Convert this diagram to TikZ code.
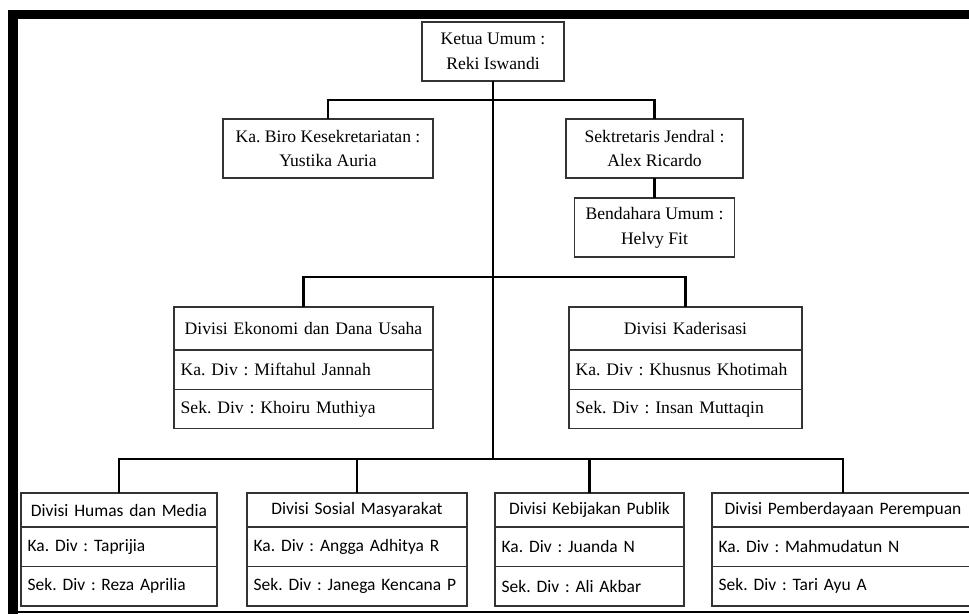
\documentclass[tikz,border=0pt]{standalone}
\usepackage{fontspec}
\setmainfont{Liberation Serif}
\newfontfamily\calibri{Carlito}
\usetikzlibrary{positioning}
\frenchspacing

\begin{document}
\begin{tikzpicture}[x=0.75pt,y=-0.75pt,
    box/.style={draw=black!80,line width=1.1pt,outer sep=0pt,inner sep=0pt,
      font=\fontsize{13.2}{18.5}\selectfont},
    post/.style={box,align=center,minimum height=44.25pt},
    head/.style={box,align=center,inner xsep=5pt,minimum height=32.25pt},
    row/.style={box,align=left,inner xsep=5pt,minimum height=29.5pt},
    lowhead/.style={head,minimum height=25.5pt,font=\calibri\fontsize{13.1}{16}\selectfont},
    lowrow/.style={row,minimum height=29.6pt,font=\calibri\fontsize{13.1}{16}\selectfont},
    link/.style={line width=2.2pt,black}]
  \useasboundingbox (0,0) rectangle (969,614);
  %
  % Frame
  \fill[black] (8,10) rectangle (18,614);
  \fill[black] (8,10) rectangle (969,19);
  \draw[line width=1pt] (18,612) -- (969,612);
  %
  % Pengurus inti
  \node[post,minimum width=106.5pt] (ketua) at (493,51.5) {Ketua Umum :\\Reki Iswandi};
  \node[post,minimum width=157.5pt] (biro) at (328,148.5) {Ka. Biro Kesekretariatan :\\Yustika Auria};
  \node[post,minimum width=132.75pt] (sekjen) at (654.5,148.5) {Sektretaris Jendral :\\Alex Ricardo};
  \node[post,minimum width=120pt] (bendahara) at (654.5,227.5) {Bendahara Umum :\\Helvy Fit};
  %
  % Divisi tengah
  \node[head,text width=184.25pt] (ekoHead) at (303.5,328.5) {Divisi Ekonomi dan Dana Usaha};
  \node[row,text width=184.25pt,below=0pt of ekoHead] (ekoKa) {Ka. Div : Miftahul Jannah};
  \node[row,text width=184.25pt,below=0pt of ekoKa] (ekoSek) {Sek. Div : Khoiru Muthiya};
  \node[head,text width=164.75pt] (kaderHead) at (685.5,328.5) {Divisi Kaderisasi};
  \node[row,text width=164.75pt,below=0pt of kaderHead] (kaderKa) {Ka. Div : Khusnus Khotimah};
  \node[row,text width=164.75pt,below=0pt of kaderKa] (kaderSek) {Sek. Div : Insan Muttaqin};
  %
  % Divisi bawah
  \node[lowhead,text width=137pt] (humasHead) at (119,510) {Divisi Humas dan Media};
  \node[lowrow,text width=137pt,below=0pt of humasHead] (humasKa) {Ka. Div : Taprijia};
  \node[lowrow,text width=137pt,below=0pt of humasKa] (humasSek) {Sek. Div : Reza Aprilia};
  \node[lowhead,text width=155pt] (sosialHead) at (357,510) {Divisi Sosial Masyarakat};
  \node[lowrow,text width=155pt,below=0pt of sosialHead] (sosialKa) {Ka. Div : Angga Adhitya R};
  \node[lowrow,text width=155pt,below=0pt of sosialKa] (sosialSek) {Sek. Div : Janega Kencana P};
  \node[lowhead,text width=131.75pt] (publikHead) at (589.5,510) {Divisi Kebijakan Publik};
  \node[lowrow,text width=131.75pt,below=0pt of publikHead] (publikKa) {Ka. Div : Juanda N};
  \node[lowrow,text width=131.75pt,below=0pt of publikKa] (publikSek) {Sek. Div : Ali Akbar};
  \node[lowhead,text width=186.5pt] (puanHead) at (843,510) {Divisi Pemberdayaan Perempuan};
  \node[lowrow,text width=186.5pt,below=0pt of puanHead] (puanKa) {Ka. Div : Mahmudatun N};
  \node[lowrow,text width=186.5pt,below=0pt of puanKa] (puanSek) {Sek. Div : Tari Ayu A};
  %
  % Garis komando
  \coordinate (hub) at (ketua.south |- 0,459);
  \draw[link] (ketua.south) -- (hub);
  \draw[link] (biro.north) -- ++(0,-19) -| (sekjen.north);
  \draw[link] (sekjen.south) -- (bendahara.north);
  \draw[link] (ekoHead.north) -- ++(0,-30) -| (kaderHead.north);
  \draw[link] (humasHead.north) -- ++(0,-34) -| (puanHead.north);
  \draw[link] (sosialHead.north) -- ++(0,-34);
  \draw[link] (publikHead.north) -- ++(0,-34);
  %
\end{tikzpicture}
\end{document}
